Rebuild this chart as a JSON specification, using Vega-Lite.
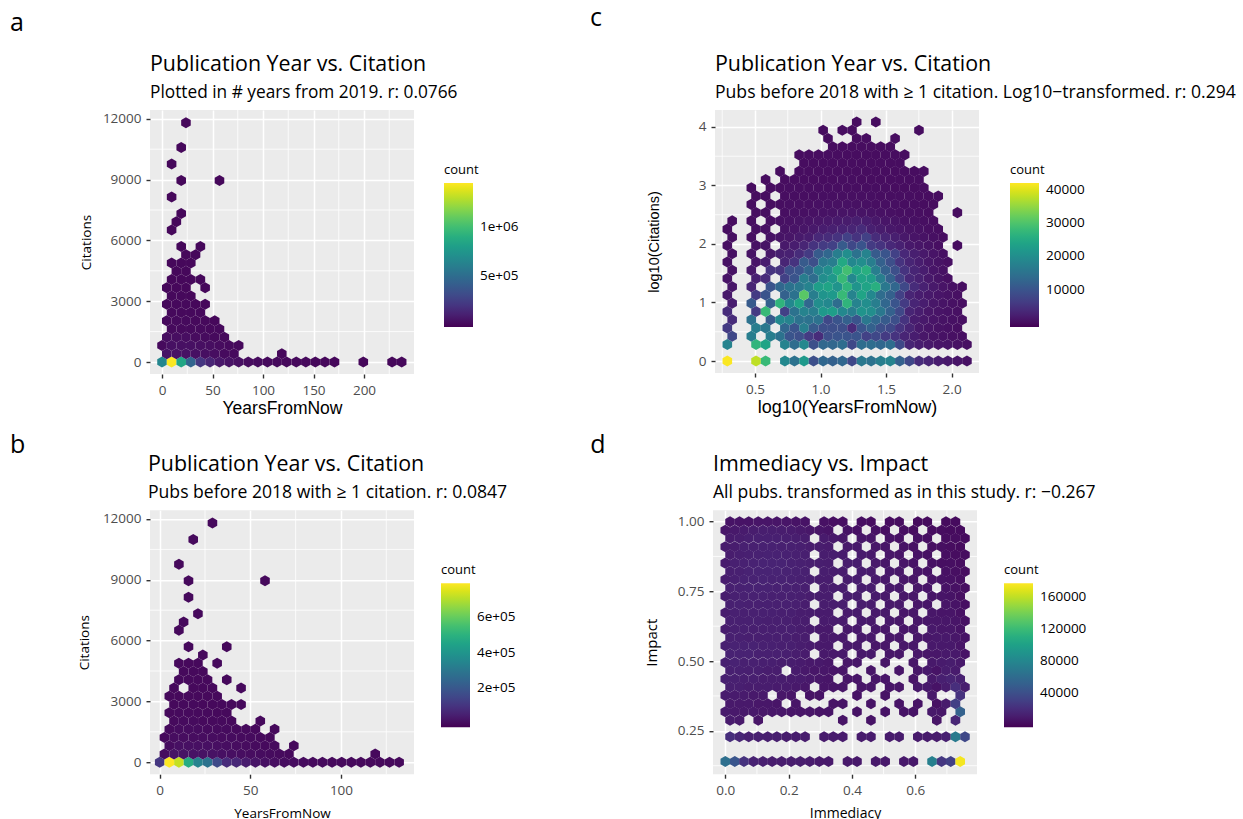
{"$schema":"https://vega.github.io/schema/vega-lite/v6.json","background":"white","padding":{"left":10,"top":5,"right":0,"bottom":0},"config":{"font":"Open Sans","view":{"fill":"#ebebeb","stroke":null},"axis":{"domain":false,"tickColor":"#333333","tickWidth":1.4,"tickSize":4,"labelColor":"#4d4d4d","labelFontSize":13.5,"labelFont":"Open Sans","titleFont":"Open Sans","titleFontWeight":"normal","titleColor":"#000000","gridColor":"#ffffff","gridWidth":1.5,"labelPadding":5}},"spacing":15.2,"columns":1,"align":"none","resolve":{"scale":{"color":"independent"},"legend":{"color":"independent"}},"concat":[{"spacing":71,"resolve":{"scale":{"color":"independent"},"legend":{"color":"independent"}},"hconcat":[{"title":{"text":"a","anchor":"start","frame":"group","fontSize":25,"fontWeight":"normal","font":"Open Sans","dx":-140,"offset":18.3},"hconcat":[{"title":{"text":"Publication Year vs. Citation","subtitle":"Plotted in # years from 2019. r: 0.0766","anchor":"start","frame":"group","fontSize":21.4,"fontWeight":"normal","font":"Open Sans","subtitleFont":"Open Sans","subtitleFontSize":17.3,"subtitleColor":"#000000","subtitlePadding":8.3,"offset":8.4},"width":264,"height":264,"layer":[{"data":{"values":[{"g":25},{"g":75},{"g":125},{"g":175},{"g":225}]},"mark":{"type":"rule","color":"white","strokeWidth":0.8},"encoding":{"x":{"field":"g","type":"quantitative","scale":{"domain":[-11.9,249.5],"nice":false,"zero":false}}}},{"data":{"values":[{"g":1500},{"g":4500},{"g":7500},{"g":10500}]},"mark":{"type":"rule","color":"white","strokeWidth":0.8},"encoding":{"y":{"field":"g","type":"quantitative","scale":{"domain":[-592,12434],"nice":false,"zero":false}}}},{"data":{"values":[{"x":0,"y":0,"n":650000},{"x":9.5,"y":0,"n":1450000},{"x":19,"y":0,"n":850000},{"x":28.5,"y":0,"n":450000},{"x":38,"y":0,"n":200000},{"x":47.5,"y":0,"n":120000},{"x":56.9,"y":0,"n":60000},{"x":66.4,"y":0,"n":40000},{"x":75.9,"y":0,"n":25000},{"x":85.4,"y":0,"n":15000},{"x":94.9,"y":0,"n":10000},{"x":104.4,"y":0,"n":7000},{"x":113.9,"y":0,"n":5000},{"x":123.4,"y":0,"n":3000},{"x":132.9,"y":0,"n":1500},{"x":142.4,"y":0,"n":800},{"x":151.8,"y":0,"n":500},{"x":161.3,"y":0,"n":300},{"x":170.8,"y":0,"n":100},{"x":199.3,"y":0,"n":2},{"x":227.8,"y":0,"n":1},{"x":237.3,"y":0,"n":1},{"x":4.7,"y":407,"n":40000},{"x":14.2,"y":407,"n":40000},{"x":23.7,"y":407,"n":35000},{"x":33.2,"y":407,"n":30000},{"x":42.7,"y":407,"n":25000},{"x":52.2,"y":407,"n":20000},{"x":61.7,"y":407,"n":10000},{"x":71.2,"y":407,"n":5000},{"x":118.6,"y":407,"n":5},{"x":0,"y":814,"n":5000},{"x":9.5,"y":814,"n":30000},{"x":19,"y":814,"n":30000},{"x":28.5,"y":814,"n":30000},{"x":38,"y":814,"n":25000},{"x":47.5,"y":814,"n":20000},{"x":56.9,"y":814,"n":15000},{"x":66.4,"y":814,"n":8000},{"x":75.9,"y":814,"n":1000},{"x":4.7,"y":1221,"n":20000},{"x":14.2,"y":1221,"n":20000},{"x":23.7,"y":1221,"n":20000},{"x":33.2,"y":1221,"n":15000},{"x":42.7,"y":1221,"n":12000},{"x":52.2,"y":1221,"n":8000},{"x":61.7,"y":1221,"n":3000},{"x":9.5,"y":1628,"n":8000},{"x":19,"y":1628,"n":8000},{"x":28.5,"y":1628,"n":7000},{"x":38,"y":1628,"n":6000},{"x":47.5,"y":1628,"n":4000},{"x":56.9,"y":1628,"n":1000},{"x":4.7,"y":2035,"n":3000},{"x":14.2,"y":2035,"n":5000},{"x":23.7,"y":2035,"n":5000},{"x":33.2,"y":2035,"n":4000},{"x":42.7,"y":2035,"n":2000},{"x":52.2,"y":2035,"n":500},{"x":9.5,"y":2442,"n":3000},{"x":19,"y":2442,"n":3000},{"x":28.5,"y":2442,"n":2000},{"x":38,"y":2442,"n":1000},{"x":4.7,"y":2849,"n":500},{"x":14.2,"y":2849,"n":1500},{"x":23.7,"y":2849,"n":1500},{"x":33.2,"y":2849,"n":500},{"x":42.7,"y":2849,"n":100},{"x":9.5,"y":3256,"n":800},{"x":19,"y":3256,"n":800},{"x":28.5,"y":3256,"n":300},{"x":4.7,"y":3663,"n":100},{"x":14.2,"y":3663,"n":400},{"x":23.7,"y":3663,"n":300},{"x":42.7,"y":3663,"n":10},{"x":9.5,"y":4070,"n":200},{"x":19,"y":4070,"n":200},{"x":28.5,"y":4070,"n":100},{"x":38,"y":4070,"n":10},{"x":14.2,"y":4477,"n":100},{"x":23.7,"y":4477,"n":80},{"x":9.5,"y":4884,"n":30},{"x":19,"y":4884,"n":40},{"x":28.5,"y":4884,"n":30},{"x":23.7,"y":5291,"n":10},{"x":33.2,"y":5291,"n":5},{"x":19,"y":5698,"n":5},{"x":38,"y":5698,"n":3},{"x":9.5,"y":6512,"n":2},{"x":14.2,"y":6919,"n":2},{"x":19,"y":7326,"n":1},{"x":9.5,"y":8140,"n":1},{"x":19,"y":8954,"n":1},{"x":56.9,"y":8954,"n":1},{"x":9.5,"y":9768,"n":1},{"x":19,"y":10582,"n":1},{"x":23.7,"y":11803,"n":1}]},"mark":{"type":"point","filled":true,"opacity":1,"strokeWidth":0,"size":122,"shape":"M0,-1L0.866,-0.5L0.866,0.5L0,1L-0.866,0.5L-0.866,-0.5Z"},"encoding":{"x":{"field":"x","type":"quantitative","title":"YearsFromNow","scale":{"domain":[-11.9,249.5],"nice":false,"zero":false},"axis":{"values":[0,50,100,150,200],"titleFontSize":17.5,"titleFont":"Liberation Sans","titlePadding":3}},"y":{"field":"y","type":"quantitative","title":"Citations","scale":{"domain":[-592,12434],"nice":false,"zero":false},"axis":{"values":[0,3000,6000,9000,12000],"format":"d","titleFontSize":13.5,"titlePadding":9}},"color":{"field":"n","type":"quantitative","scale":{"scheme":"viridis","domain":[-28000,1458000],"clamp":true},"legend":{"orient":"none","legendX":294,"legendY":54,"title":"count","titleFontWeight":"normal","titleFont":"Open Sans","labelFont":"Open Sans","titleFontSize":13,"labelFontSize":13.5,"labelColor":"#000000","titleColor":"#000000","gradientLength":144,"gradientThickness":29,"titlePadding":6,"labelOffset":7,"labelOverlap":false,"values":[500000,1000000],"labelExpr":"datum.value==1000000?'1e+06':'5e+05'"}}}}]}]},{"title":{"text":"c","anchor":"start","frame":"group","fontSize":25,"fontWeight":"normal","font":"Open Sans","dx":-125,"offset":23.3},"hconcat":[{"title":{"text":"Publication Year vs. Citation","subtitle":"Pubs before 2018 with ≥ 1 citation. Log10−transformed. r: 0.294","anchor":"start","frame":"group","fontSize":21.4,"fontWeight":"normal","font":"Open Sans","subtitleFont":"Open Sans","subtitleFontSize":17.6,"subtitleColor":"#000000","subtitlePadding":8.3,"offset":8.4},"width":264,"height":263,"layer":[{"data":{"values":[{"g":0.25},{"g":0.75},{"g":1.25},{"g":1.75}]},"mark":{"type":"rule","color":"white","strokeWidth":0.8},"encoding":{"x":{"field":"g","type":"quantitative","scale":{"domain":[0.195,2.209],"nice":false,"zero":false}}}},{"data":{"values":[{"g":0.5},{"g":1.5},{"g":2.5},{"g":3.5}]},"mark":{"type":"rule","color":"white","strokeWidth":0.8},"encoding":{"y":{"field":"g","type":"quantitative","scale":{"domain":[-0.205,4.29],"nice":false,"zero":false}}}},{"data":{"values":[{"x":0.289,"y":0,"n":42000},{"x":0.508,"y":0,"n":38000},{"x":0.581,"y":0,"n":28000},{"x":0.728,"y":0,"n":19000},{"x":0.801,"y":0,"n":15000},{"x":0.874,"y":0,"n":22000},{"x":0.947,"y":0,"n":9000},{"x":1.02,"y":0,"n":13000},{"x":1.093,"y":0,"n":12000},{"x":1.166,"y":0,"n":13000},{"x":1.24,"y":0,"n":8000},{"x":1.313,"y":0,"n":16000},{"x":1.386,"y":0,"n":15000},{"x":1.459,"y":0,"n":17000},{"x":1.532,"y":0,"n":18000},{"x":1.605,"y":0,"n":12000},{"x":1.678,"y":0,"n":8000},{"x":1.751,"y":0,"n":4000},{"x":1.825,"y":0,"n":3000},{"x":1.898,"y":0,"n":2000},{"x":1.971,"y":0,"n":1500},{"x":2.044,"y":0,"n":1000},{"x":2.117,"y":0,"n":500},{"x":0.289,"y":0.282,"n":18000},{"x":0.508,"y":0.282,"n":27000},{"x":0.581,"y":0.282,"n":24000},{"x":0.728,"y":0.282,"n":18000},{"x":0.801,"y":0.282,"n":14000},{"x":0.874,"y":0.282,"n":19000},{"x":0.947,"y":0.282,"n":9000},{"x":1.02,"y":0.282,"n":13000},{"x":1.093,"y":0.282,"n":13000},{"x":1.166,"y":0.282,"n":14000},{"x":1.24,"y":0.282,"n":8000},{"x":1.313,"y":0.282,"n":14000},{"x":1.386,"y":0.282,"n":14000},{"x":1.459,"y":0.282,"n":13000},{"x":1.532,"y":0.282,"n":14000},{"x":1.605,"y":0.282,"n":8000},{"x":1.678,"y":0.282,"n":3000},{"x":1.751,"y":0.282,"n":2000},{"x":1.825,"y":0.282,"n":1500},{"x":1.898,"y":0.282,"n":1000},{"x":1.971,"y":0.282,"n":800},{"x":2.044,"y":0.282,"n":500},{"x":2.117,"y":0.282,"n":300},{"x":0.326,"y":0.423,"n":8000},{"x":0.472,"y":0.423,"n":17000},{"x":0.618,"y":0.423,"n":17000},{"x":0.691,"y":0.423,"n":15000},{"x":0.764,"y":0.423,"n":10000},{"x":0.837,"y":0.423,"n":9000},{"x":0.911,"y":0.423,"n":6000},{"x":0.984,"y":0.423,"n":4000},{"x":1.057,"y":0.423,"n":9000},{"x":1.13,"y":0.423,"n":10000},{"x":1.203,"y":0.423,"n":10000},{"x":1.276,"y":0.423,"n":10000},{"x":1.349,"y":0.423,"n":7000},{"x":1.422,"y":0.423,"n":8000},{"x":1.495,"y":0.423,"n":6000},{"x":1.569,"y":0.423,"n":5000},{"x":1.642,"y":0.423,"n":3000},{"x":1.715,"y":0.423,"n":2000},{"x":1.788,"y":0.423,"n":1200},{"x":1.861,"y":0.423,"n":800},{"x":1.934,"y":0.423,"n":600},{"x":2.007,"y":0.423,"n":400},{"x":2.08,"y":0.423,"n":200},{"x":0.289,"y":0.564,"n":6000},{"x":0.508,"y":0.564,"n":17000},{"x":0.581,"y":0.564,"n":16000},{"x":0.728,"y":0.564,"n":13000},{"x":0.801,"y":0.564,"n":10000},{"x":0.874,"y":0.564,"n":17000},{"x":0.947,"y":0.564,"n":11000},{"x":1.02,"y":0.564,"n":9000},{"x":1.093,"y":0.564,"n":9000},{"x":1.166,"y":0.564,"n":9000},{"x":1.24,"y":0.564,"n":4000},{"x":1.313,"y":0.564,"n":10000},{"x":1.386,"y":0.564,"n":12000},{"x":1.459,"y":0.564,"n":9000},{"x":1.532,"y":0.564,"n":8000},{"x":1.605,"y":0.564,"n":5000},{"x":1.678,"y":0.564,"n":3000},{"x":1.751,"y":0.564,"n":1500},{"x":1.825,"y":0.564,"n":1000},{"x":1.898,"y":0.564,"n":700},{"x":1.971,"y":0.564,"n":500},{"x":2.044,"y":0.564,"n":300},{"x":0.326,"y":0.705,"n":4000},{"x":0.472,"y":0.705,"n":15000},{"x":0.618,"y":0.705,"n":11000},{"x":0.691,"y":0.705,"n":19000},{"x":0.764,"y":0.705,"n":18000},{"x":0.837,"y":0.705,"n":15000},{"x":0.911,"y":0.705,"n":15000},{"x":0.984,"y":0.705,"n":15000},{"x":1.057,"y":0.705,"n":8000},{"x":1.13,"y":0.705,"n":10000},{"x":1.203,"y":0.705,"n":12000},{"x":1.276,"y":0.705,"n":10000},{"x":1.349,"y":0.705,"n":16000},{"x":1.422,"y":0.705,"n":13000},{"x":1.495,"y":0.705,"n":11000},{"x":1.569,"y":0.705,"n":9000},{"x":1.642,"y":0.705,"n":5000},{"x":1.715,"y":0.705,"n":2000},{"x":1.788,"y":0.705,"n":1500},{"x":1.861,"y":0.705,"n":1000},{"x":1.934,"y":0.705,"n":700},{"x":2.007,"y":0.705,"n":500},{"x":2.08,"y":0.705,"n":250},{"x":0.289,"y":0.845,"n":4000},{"x":0.508,"y":0.845,"n":6000},{"x":0.581,"y":0.845,"n":28000},{"x":0.728,"y":0.845,"n":7000},{"x":0.801,"y":0.845,"n":15000},{"x":0.874,"y":0.845,"n":18000},{"x":0.947,"y":0.845,"n":17000},{"x":1.02,"y":0.845,"n":22000},{"x":1.093,"y":0.845,"n":23000},{"x":1.166,"y":0.845,"n":19000},{"x":1.24,"y":0.845,"n":17000},{"x":1.313,"y":0.845,"n":21000},{"x":1.386,"y":0.845,"n":20000},{"x":1.459,"y":0.845,"n":16000},{"x":1.532,"y":0.845,"n":12000},{"x":1.605,"y":0.845,"n":8000},{"x":1.678,"y":0.845,"n":3000},{"x":1.751,"y":0.845,"n":2000},{"x":1.825,"y":0.845,"n":1200},{"x":1.898,"y":0.845,"n":900},{"x":1.971,"y":0.845,"n":600},{"x":2.044,"y":0.845,"n":350},{"x":0.326,"y":0.986,"n":2000},{"x":0.472,"y":0.986,"n":11000},{"x":0.618,"y":0.986,"n":12000},{"x":0.691,"y":0.986,"n":27000},{"x":0.764,"y":0.986,"n":19000},{"x":0.837,"y":0.986,"n":24000},{"x":0.911,"y":0.986,"n":13000},{"x":0.984,"y":0.986,"n":20000},{"x":1.057,"y":0.986,"n":19000},{"x":1.13,"y":0.986,"n":14000},{"x":1.203,"y":0.986,"n":27000},{"x":1.276,"y":0.986,"n":18000},{"x":1.349,"y":0.986,"n":20000},{"x":1.422,"y":0.986,"n":17000},{"x":1.495,"y":0.986,"n":13000},{"x":1.569,"y":0.986,"n":10000},{"x":1.642,"y":0.986,"n":6000},{"x":1.715,"y":0.986,"n":3000},{"x":1.788,"y":0.986,"n":2000},{"x":1.861,"y":0.986,"n":1200},{"x":1.934,"y":0.986,"n":800},{"x":2.007,"y":0.986,"n":500},{"x":2.08,"y":0.986,"n":300},{"x":0.289,"y":1.127,"n":1500},{"x":0.508,"y":1.127,"n":6000},{"x":0.581,"y":1.127,"n":10000},{"x":0.728,"y":1.127,"n":12000},{"x":0.801,"y":1.127,"n":15000},{"x":0.874,"y":1.127,"n":31000},{"x":0.947,"y":1.127,"n":17000},{"x":1.02,"y":1.127,"n":21000},{"x":1.093,"y":1.127,"n":22000},{"x":1.166,"y":1.127,"n":28000},{"x":1.24,"y":1.127,"n":18000},{"x":1.313,"y":1.127,"n":24000},{"x":1.386,"y":1.127,"n":19000},{"x":1.459,"y":1.127,"n":14000},{"x":1.532,"y":1.127,"n":12000},{"x":1.605,"y":1.127,"n":7000},{"x":1.678,"y":1.127,"n":3000},{"x":1.751,"y":1.127,"n":2000},{"x":1.825,"y":1.127,"n":1500},{"x":1.898,"y":1.127,"n":1000},{"x":1.971,"y":1.127,"n":700},{"x":2.044,"y":1.127,"n":350},{"x":0.326,"y":1.268,"n":1200},{"x":0.472,"y":1.268,"n":3000},{"x":0.618,"y":1.268,"n":10000},{"x":0.691,"y":1.268,"n":13000},{"x":0.764,"y":1.268,"n":15000},{"x":0.837,"y":1.268,"n":16000},{"x":0.911,"y":1.268,"n":18000},{"x":0.984,"y":1.268,"n":23000},{"x":1.057,"y":1.268,"n":24000},{"x":1.13,"y":1.268,"n":21000},{"x":1.203,"y":1.268,"n":27000},{"x":1.276,"y":1.268,"n":21000},{"x":1.349,"y":1.268,"n":24000},{"x":1.422,"y":1.268,"n":26000},{"x":1.495,"y":1.268,"n":16000},{"x":1.569,"y":1.268,"n":13000},{"x":1.642,"y":1.268,"n":8000},{"x":1.715,"y":1.268,"n":4000},{"x":1.788,"y":1.268,"n":2500},{"x":1.861,"y":1.268,"n":1500},{"x":1.934,"y":1.268,"n":900},{"x":2.007,"y":1.268,"n":500},{"x":2.08,"y":1.268,"n":150},{"x":0.289,"y":1.409,"n":900},{"x":0.508,"y":1.409,"n":2500},{"x":0.581,"y":1.409,"n":4000},{"x":0.728,"y":1.409,"n":7000},{"x":0.801,"y":1.409,"n":10000},{"x":0.874,"y":1.409,"n":17000},{"x":0.947,"y":1.409,"n":14000},{"x":1.02,"y":1.409,"n":20000},{"x":1.093,"y":1.409,"n":22000},{"x":1.166,"y":1.409,"n":28000},{"x":1.24,"y":1.409,"n":19000},{"x":1.313,"y":1.409,"n":24000},{"x":1.386,"y":1.409,"n":23000},{"x":1.459,"y":1.409,"n":17000},{"x":1.532,"y":1.409,"n":12000},{"x":1.605,"y":1.409,"n":7000},{"x":1.678,"y":1.409,"n":3500},{"x":1.751,"y":1.409,"n":2500},{"x":1.825,"y":1.409,"n":1500},{"x":1.898,"y":1.409,"n":800},{"x":1.971,"y":1.409,"n":300},{"x":0.326,"y":1.55,"n":600},{"x":0.472,"y":1.55,"n":1500},{"x":0.618,"y":1.55,"n":5000},{"x":0.691,"y":1.55,"n":5000},{"x":0.764,"y":1.55,"n":9000},{"x":0.837,"y":1.55,"n":10000},{"x":0.911,"y":1.55,"n":13000},{"x":0.984,"y":1.55,"n":18000},{"x":1.057,"y":1.55,"n":20000},{"x":1.13,"y":1.55,"n":25000},{"x":1.203,"y":1.55,"n":29000},{"x":1.276,"y":1.55,"n":24000},{"x":1.349,"y":1.55,"n":26000},{"x":1.422,"y":1.55,"n":17000},{"x":1.495,"y":1.55,"n":12000},{"x":1.569,"y":1.55,"n":9000},{"x":1.642,"y":1.55,"n":5000},{"x":1.715,"y":1.55,"n":3000},{"x":1.788,"y":1.55,"n":2000},{"x":1.861,"y":1.55,"n":1000},{"x":1.934,"y":1.55,"n":500},{"x":0.289,"y":1.691,"n":500},{"x":0.508,"y":1.691,"n":1000},{"x":0.581,"y":1.691,"n":2000},{"x":0.728,"y":1.691,"n":3000},{"x":0.801,"y":1.691,"n":5000},{"x":0.874,"y":1.691,"n":11000},{"x":0.947,"y":1.691,"n":9000},{"x":1.02,"y":1.691,"n":16000},{"x":1.093,"y":1.691,"n":17000},{"x":1.166,"y":1.691,"n":25000},{"x":1.24,"y":1.691,"n":19000},{"x":1.313,"y":1.691,"n":20000},{"x":1.386,"y":1.691,"n":17000},{"x":1.459,"y":1.691,"n":12000},{"x":1.532,"y":1.691,"n":9000},{"x":1.605,"y":1.691,"n":5000},{"x":1.678,"y":1.691,"n":3000},{"x":1.751,"y":1.691,"n":2000},{"x":1.825,"y":1.691,"n":1200},{"x":1.898,"y":1.691,"n":700},{"x":1.971,"y":1.691,"n":300},{"x":0.326,"y":1.832,"n":400},{"x":0.472,"y":1.832,"n":700},{"x":0.618,"y":1.832,"n":1300},{"x":0.691,"y":1.832,"n":2200},{"x":0.764,"y":1.832,"n":2500},{"x":0.837,"y":1.832,"n":4000},{"x":0.911,"y":1.832,"n":6000},{"x":0.984,"y":1.832,"n":11000},{"x":1.057,"y":1.832,"n":13000},{"x":1.13,"y":1.832,"n":17000},{"x":1.203,"y":1.832,"n":20000},{"x":1.276,"y":1.832,"n":15000},{"x":1.349,"y":1.832,"n":18000},{"x":1.422,"y":1.832,"n":11000},{"x":1.495,"y":1.832,"n":10000},{"x":1.569,"y":1.832,"n":7000},{"x":1.642,"y":1.832,"n":3500},{"x":1.715,"y":1.832,"n":2200},{"x":1.788,"y":1.832,"n":1500},{"x":1.861,"y":1.832,"n":900},{"x":1.934,"y":1.832,"n":400},{"x":0.289,"y":1.973,"n":300},{"x":0.508,"y":1.973,"n":500},{"x":0.581,"y":1.973,"n":800},{"x":0.728,"y":1.973,"n":1500},{"x":0.801,"y":1.973,"n":2000},{"x":0.874,"y":1.973,"n":3000},{"x":0.947,"y":1.973,"n":5000},{"x":1.02,"y":1.973,"n":6000},{"x":1.093,"y":1.973,"n":7000},{"x":1.166,"y":1.973,"n":11000},{"x":1.24,"y":1.973,"n":8000},{"x":1.313,"y":1.973,"n":10000},{"x":1.386,"y":1.973,"n":6000},{"x":1.459,"y":1.973,"n":5000},{"x":1.532,"y":1.973,"n":3500},{"x":1.605,"y":1.973,"n":2500},{"x":1.678,"y":1.973,"n":1500},{"x":1.751,"y":1.973,"n":1100},{"x":1.825,"y":1.973,"n":700},{"x":1.898,"y":1.973,"n":300},{"x":2.044,"y":1.973,"n":5},{"x":0.326,"y":2.114,"n":200},{"x":0.472,"y":2.114,"n":300},{"x":0.618,"y":2.114,"n":600},{"x":0.691,"y":2.114,"n":800},{"x":0.764,"y":2.114,"n":1100},{"x":0.837,"y":2.114,"n":1600},{"x":0.911,"y":2.114,"n":2000},{"x":0.984,"y":2.114,"n":3500},{"x":1.057,"y":2.114,"n":4000},{"x":1.13,"y":2.114,"n":5000},{"x":1.203,"y":2.114,"n":7000},{"x":1.276,"y":2.114,"n":5000},{"x":1.349,"y":2.114,"n":7000},{"x":1.422,"y":2.114,"n":4000},{"x":1.495,"y":2.114,"n":3000},{"x":1.569,"y":2.114,"n":2200},{"x":1.642,"y":2.114,"n":1300},{"x":1.715,"y":2.114,"n":900},{"x":1.788,"y":2.114,"n":600},{"x":1.861,"y":2.114,"n":400},{"x":1.934,"y":2.114,"n":150},{"x":0.289,"y":2.254,"n":100},{"x":0.508,"y":2.254,"n":250},{"x":0.581,"y":2.254,"n":400},{"x":0.728,"y":2.254,"n":700},{"x":0.801,"y":2.254,"n":900},{"x":0.874,"y":2.254,"n":1100},{"x":0.947,"y":2.254,"n":1500},{"x":1.02,"y":2.254,"n":2000},{"x":1.093,"y":2.254,"n":2300},{"x":1.166,"y":2.254,"n":2800},{"x":1.24,"y":2.254,"n":3000},{"x":1.313,"y":2.254,"n":4000},{"x":1.386,"y":2.254,"n":2300},{"x":1.459,"y":2.254,"n":1800},{"x":1.532,"y":2.254,"n":1300},{"x":1.605,"y":2.254,"n":1000},{"x":1.678,"y":2.254,"n":700},{"x":1.751,"y":2.254,"n":500},{"x":1.825,"y":2.254,"n":300},{"x":1.898,"y":2.254,"n":150},{"x":0.326,"y":2.395,"n":60},{"x":0.472,"y":2.395,"n":150},{"x":0.618,"y":2.395,"n":250},{"x":0.691,"y":2.395,"n":350},{"x":0.764,"y":2.395,"n":500},{"x":0.837,"y":2.395,"n":700},{"x":0.911,"y":2.395,"n":900},{"x":0.984,"y":2.395,"n":1100},{"x":1.057,"y":2.395,"n":1300},{"x":1.13,"y":2.395,"n":1600},{"x":1.203,"y":2.395,"n":1800},{"x":1.276,"y":2.395,"n":2200},{"x":1.349,"y":2.395,"n":2000},{"x":1.422,"y":2.395,"n":1300},{"x":1.495,"y":2.395,"n":1000},{"x":1.569,"y":2.395,"n":800},{"x":1.642,"y":2.395,"n":500},{"x":1.715,"y":2.395,"n":350},{"x":1.788,"y":2.395,"n":200},{"x":1.861,"y":2.395,"n":80},{"x":0.508,"y":2.536,"n":80},{"x":0.581,"y":2.536,"n":150},{"x":0.728,"y":2.536,"n":300},{"x":0.801,"y":2.536,"n":350},{"x":0.874,"y":2.536,"n":400},{"x":0.947,"y":2.536,"n":500},{"x":1.02,"y":2.536,"n":600},{"x":1.093,"y":2.536,"n":700},{"x":1.166,"y":2.536,"n":800},{"x":1.24,"y":2.536,"n":900},{"x":1.313,"y":2.536,"n":800},{"x":1.386,"y":2.536,"n":700},{"x":1.459,"y":2.536,"n":500},{"x":1.532,"y":2.536,"n":400},{"x":1.605,"y":2.536,"n":300},{"x":1.678,"y":2.536,"n":200},{"x":1.751,"y":2.536,"n":150},{"x":1.825,"y":2.536,"n":50},{"x":2.044,"y":2.536,"n":1},{"x":0.472,"y":2.677,"n":60},{"x":0.618,"y":2.677,"n":100},{"x":0.691,"y":2.677,"n":150},{"x":0.764,"y":2.677,"n":200},{"x":0.837,"y":2.677,"n":250},{"x":0.911,"y":2.677,"n":300},{"x":0.984,"y":2.677,"n":350},{"x":1.057,"y":2.677,"n":400},{"x":1.13,"y":2.677,"n":450},{"x":1.203,"y":2.677,"n":500},{"x":1.276,"y":2.677,"n":450},{"x":1.349,"y":2.677,"n":400},{"x":1.422,"y":2.677,"n":300},{"x":1.495,"y":2.677,"n":250},{"x":1.569,"y":2.677,"n":200},{"x":1.642,"y":2.677,"n":150},{"x":1.715,"y":2.677,"n":100},{"x":1.788,"y":2.677,"n":50},{"x":1.861,"y":2.677,"n":20},{"x":0.508,"y":2.818,"n":40},{"x":0.581,"y":2.818,"n":70},{"x":0.728,"y":2.818,"n":100},{"x":0.801,"y":2.818,"n":120},{"x":0.874,"y":2.818,"n":150},{"x":0.947,"y":2.818,"n":180},{"x":1.02,"y":2.818,"n":200},{"x":1.093,"y":2.818,"n":220},{"x":1.166,"y":2.818,"n":250},{"x":1.24,"y":2.818,"n":250},{"x":1.313,"y":2.818,"n":220},{"x":1.386,"y":2.818,"n":200},{"x":1.459,"y":2.818,"n":170},{"x":1.532,"y":2.818,"n":140},{"x":1.605,"y":2.818,"n":110},{"x":1.678,"y":2.818,"n":80},{"x":1.751,"y":2.818,"n":50},{"x":1.825,"y":2.818,"n":20},{"x":1.898,"y":2.818,"n":5},{"x":0.472,"y":2.959,"n":30},{"x":0.618,"y":2.959,"n":50},{"x":0.691,"y":2.959,"n":60},{"x":0.764,"y":2.959,"n":70},{"x":0.837,"y":2.959,"n":80},{"x":0.911,"y":2.959,"n":90},{"x":0.984,"y":2.959,"n":100},{"x":1.057,"y":2.959,"n":120},{"x":1.13,"y":2.959,"n":130},{"x":1.203,"y":2.959,"n":130},{"x":1.276,"y":2.959,"n":120},{"x":1.349,"y":2.959,"n":110},{"x":1.422,"y":2.959,"n":90},{"x":1.495,"y":2.959,"n":70},{"x":1.569,"y":2.959,"n":60},{"x":1.642,"y":2.959,"n":40},{"x":1.715,"y":2.959,"n":20},{"x":1.788,"y":2.959,"n":10},{"x":0.581,"y":3.1,"n":30},{"x":0.728,"y":3.1,"n":40},{"x":0.801,"y":3.1,"n":40},{"x":0.874,"y":3.1,"n":50},{"x":0.947,"y":3.1,"n":50},{"x":1.02,"y":3.1,"n":60},{"x":1.093,"y":3.1,"n":60},{"x":1.166,"y":3.1,"n":70},{"x":1.24,"y":3.1,"n":70},{"x":1.313,"y":3.1,"n":60},{"x":1.386,"y":3.1,"n":60},{"x":1.459,"y":3.1,"n":50},{"x":1.532,"y":3.1,"n":40},{"x":1.605,"y":3.1,"n":30},{"x":1.678,"y":3.1,"n":20},{"x":1.751,"y":3.1,"n":10},{"x":0.691,"y":3.241,"n":10},{"x":0.837,"y":3.241,"n":20},{"x":0.911,"y":3.241,"n":20},{"x":0.984,"y":3.241,"n":30},{"x":1.057,"y":3.241,"n":30},{"x":1.13,"y":3.241,"n":30},{"x":1.203,"y":3.241,"n":30},{"x":1.276,"y":3.241,"n":30},{"x":1.349,"y":3.241,"n":30},{"x":1.422,"y":3.241,"n":20},{"x":1.495,"y":3.241,"n":20},{"x":1.569,"y":3.241,"n":20},{"x":1.642,"y":3.241,"n":10},{"x":1.715,"y":3.241,"n":5},{"x":1.788,"y":3.241,"n":2},{"x":0.874,"y":3.382,"n":10},{"x":0.947,"y":3.382,"n":10},{"x":1.02,"y":3.382,"n":10},{"x":1.093,"y":3.382,"n":10},{"x":1.166,"y":3.382,"n":10},{"x":1.24,"y":3.382,"n":10},{"x":1.313,"y":3.382,"n":10},{"x":1.386,"y":3.382,"n":10},{"x":1.459,"y":3.382,"n":10},{"x":1.532,"y":3.382,"n":10},{"x":1.605,"y":3.382,"n":5},{"x":0.837,"y":3.523,"n":2},{"x":0.911,"y":3.523,"n":3},{"x":0.984,"y":3.523,"n":3},{"x":1.057,"y":3.523,"n":5},{"x":1.13,"y":3.523,"n":5},{"x":1.203,"y":3.523,"n":5},{"x":1.276,"y":3.523,"n":5},{"x":1.349,"y":3.523,"n":5},{"x":1.422,"y":3.523,"n":5},{"x":1.495,"y":3.523,"n":5},{"x":1.569,"y":3.523,"n":3},{"x":1.642,"y":3.523,"n":2},{"x":1.093,"y":3.663,"n":2},{"x":1.166,"y":3.663,"n":2},{"x":1.24,"y":3.663,"n":2},{"x":1.313,"y":3.663,"n":3},{"x":1.386,"y":3.663,"n":3},{"x":1.459,"y":3.663,"n":2},{"x":1.532,"y":3.663,"n":2},{"x":1.057,"y":3.804,"n":1},{"x":1.276,"y":3.804,"n":1},{"x":1.349,"y":3.804,"n":1},{"x":1.569,"y":3.804,"n":1},{"x":1.02,"y":3.945,"n":1},{"x":1.166,"y":3.945,"n":1},{"x":1.24,"y":3.945,"n":1},{"x":1.751,"y":3.945,"n":1},{"x":1.276,"y":4.086,"n":1},{"x":1.422,"y":4.086,"n":1}]},"mark":{"type":"point","filled":true,"opacity":1,"strokeWidth":0,"size":122,"shape":"M0,-1L0.866,-0.5L0.866,0.5L0,1L-0.866,0.5L-0.866,-0.5Z"},"encoding":{"x":{"field":"x","type":"quantitative","title":"log10(YearsFromNow)","scale":{"domain":[0.195,2.209],"nice":false,"zero":false},"axis":{"values":[0.5,1,1.5,2],"format":".1f","titleFontSize":18,"titleFont":"Liberation Sans","titlePadding":3}},"y":{"field":"y","type":"quantitative","title":"log10(Citations)","scale":{"domain":[-0.205,4.29],"nice":false,"zero":false},"axis":{"values":[0,1,2,3,4],"format":"d","titleFontSize":14.5,"titleFont":"Liberation Sans","titlePadding":37}},"color":{"field":"n","type":"quantitative","scale":{"scheme":"viridis","domain":[-1330,42200],"clamp":true},"legend":{"orient":"none","legendX":295,"legendY":54,"title":"count","titleFontWeight":"normal","titleFont":"Open Sans","labelFont":"Open Sans","titleFontSize":13,"labelFontSize":13.5,"labelColor":"#000000","titleColor":"#000000","gradientLength":144,"gradientThickness":29,"titlePadding":6,"labelOffset":7,"labelOverlap":false,"format":"d","values":[10000,20000,30000,40000]}}}}]}]}]},{"spacing":74,"resolve":{"scale":{"color":"independent"},"legend":{"color":"independent"}},"hconcat":[{"title":{"text":"b","anchor":"start","frame":"group","fontSize":25,"fontWeight":"normal","font":"Open Sans","dx":-140,"offset":-3.7},"hconcat":[{"title":{"text":"Publication Year vs. Citation","subtitle":"Pubs before 2018 with ≥ 1 citation. r: 0.0847","anchor":"start","frame":"group","dx":-2,"fontSize":21.4,"fontWeight":"normal","font":"Open Sans","subtitleFont":"Open Sans","subtitleFontSize":17.6,"subtitleColor":"#000000","subtitlePadding":8.3,"offset":8.4},"width":264,"height":264,"layer":[{"data":{"values":[{"g":25},{"g":75},{"g":125}]},"mark":{"type":"rule","color":"white","strokeWidth":0.8},"encoding":{"x":{"field":"g","type":"quantitative","scale":{"domain":[-5.35,140.3],"nice":false,"zero":false}}}},{"data":{"values":[{"g":1500},{"g":4500},{"g":7500},{"g":10500}]},"mark":{"type":"rule","color":"white","strokeWidth":0.8},"encoding":{"y":{"field":"g","type":"quantitative","scale":{"domain":[-592,12434],"nice":false,"zero":false}}}},{"data":{"values":[{"x":0,"y":0,"n":110000},{"x":5.3,"y":0,"n":790000},{"x":10.6,"y":0,"n":720000},{"x":15.9,"y":0,"n":480000},{"x":21.1,"y":0,"n":340000},{"x":26.4,"y":0,"n":290000},{"x":31.7,"y":0,"n":160000},{"x":37,"y":0,"n":80000},{"x":42.3,"y":0,"n":70000},{"x":47.6,"y":0,"n":40000},{"x":52.8,"y":0,"n":25000},{"x":58.1,"y":0,"n":15000},{"x":63.4,"y":0,"n":10000},{"x":68.7,"y":0,"n":7000},{"x":74,"y":0,"n":5000},{"x":79.3,"y":0,"n":3000},{"x":84.5,"y":0,"n":2000},{"x":89.8,"y":0,"n":1000},{"x":95.1,"y":0,"n":500},{"x":100.4,"y":0,"n":300},{"x":105.7,"y":0,"n":100},{"x":111,"y":0,"n":50},{"x":116.2,"y":0,"n":20},{"x":121.5,"y":0,"n":5},{"x":126.8,"y":0,"n":2},{"x":132.1,"y":0,"n":1},{"x":2.6,"y":407,"n":5000},{"x":7.9,"y":407,"n":20000},{"x":13.2,"y":407,"n":20000},{"x":18.5,"y":407,"n":20000},{"x":23.8,"y":407,"n":18000},{"x":29.1,"y":407,"n":18000},{"x":34.3,"y":407,"n":15000},{"x":39.6,"y":407,"n":12000},{"x":44.9,"y":407,"n":10000},{"x":50.2,"y":407,"n":8000},{"x":55.5,"y":407,"n":5000},{"x":60.8,"y":407,"n":3000},{"x":66,"y":407,"n":1000},{"x":71.3,"y":407,"n":300},{"x":118.9,"y":407,"n":1},{"x":5.3,"y":814,"n":5000},{"x":10.6,"y":814,"n":15000},{"x":15.9,"y":814,"n":15000},{"x":21.1,"y":814,"n":15000},{"x":26.4,"y":814,"n":15000},{"x":31.7,"y":814,"n":12000},{"x":37,"y":814,"n":10000},{"x":42.3,"y":814,"n":8000},{"x":47.6,"y":814,"n":6000},{"x":52.8,"y":814,"n":4000},{"x":58.1,"y":814,"n":2500},{"x":63.4,"y":814,"n":1000},{"x":74,"y":814,"n":10},{"x":2.6,"y":1221,"n":500},{"x":7.9,"y":1221,"n":8000},{"x":13.2,"y":1221,"n":8000},{"x":18.5,"y":1221,"n":8000},{"x":23.8,"y":1221,"n":8000},{"x":29.1,"y":1221,"n":7000},{"x":34.3,"y":1221,"n":6000},{"x":39.6,"y":1221,"n":5000},{"x":44.9,"y":1221,"n":4000},{"x":50.2,"y":1221,"n":3000},{"x":55.5,"y":1221,"n":1500},{"x":60.8,"y":1221,"n":500},{"x":5.3,"y":1628,"n":2000},{"x":10.6,"y":1628,"n":5000},{"x":15.9,"y":1628,"n":5000},{"x":21.1,"y":1628,"n":5000},{"x":26.4,"y":1628,"n":4000},{"x":31.7,"y":1628,"n":3500},{"x":37,"y":1628,"n":3000},{"x":42.3,"y":1628,"n":2000},{"x":47.6,"y":1628,"n":1000},{"x":52.8,"y":1628,"n":200},{"x":63.4,"y":1628,"n":10},{"x":7.9,"y":2035,"n":1000},{"x":13.2,"y":2035,"n":3000},{"x":18.5,"y":2035,"n":3000},{"x":23.8,"y":2035,"n":2500},{"x":29.1,"y":2035,"n":2000},{"x":34.3,"y":2035,"n":1500},{"x":39.6,"y":2035,"n":300},{"x":55.5,"y":2035,"n":5},{"x":5.3,"y":2442,"n":300},{"x":10.6,"y":2442,"n":1500},{"x":15.9,"y":2442,"n":1500},{"x":21.1,"y":2442,"n":1200},{"x":26.4,"y":2442,"n":1000},{"x":31.7,"y":2442,"n":500},{"x":37,"y":2442,"n":100},{"x":7.9,"y":2849,"n":200},{"x":13.2,"y":2849,"n":800},{"x":18.5,"y":2849,"n":800},{"x":23.8,"y":2849,"n":500},{"x":29.1,"y":2849,"n":300},{"x":34.3,"y":2849,"n":100},{"x":39.6,"y":2849,"n":10},{"x":44.9,"y":2849,"n":5},{"x":5.3,"y":3256,"n":50},{"x":10.6,"y":3256,"n":300},{"x":15.9,"y":3256,"n":300},{"x":21.1,"y":3256,"n":200},{"x":26.4,"y":3256,"n":100},{"x":31.7,"y":3256,"n":30},{"x":7.9,"y":3663,"n":50},{"x":18.5,"y":3663,"n":100},{"x":23.8,"y":3663,"n":80},{"x":29.1,"y":3663,"n":20},{"x":44.9,"y":3663,"n":2},{"x":10.6,"y":4070,"n":30},{"x":15.9,"y":4070,"n":50},{"x":21.1,"y":4070,"n":40},{"x":26.4,"y":4070,"n":10},{"x":37,"y":4070,"n":2},{"x":13.2,"y":4477,"n":10},{"x":18.5,"y":4477,"n":20},{"x":23.8,"y":4477,"n":10},{"x":10.6,"y":4884,"n":5},{"x":15.9,"y":4884,"n":5},{"x":21.1,"y":4884,"n":5},{"x":31.7,"y":4884,"n":1},{"x":23.8,"y":5291,"n":2},{"x":15.9,"y":5698,"n":1},{"x":37,"y":5698,"n":1},{"x":10.6,"y":6512,"n":1},{"x":13.2,"y":6919,"n":1},{"x":21.1,"y":7326,"n":1},{"x":15.9,"y":8140,"n":1},{"x":15.9,"y":8954,"n":1},{"x":58.1,"y":8954,"n":1},{"x":10.6,"y":9768,"n":1},{"x":18.5,"y":10989,"n":1},{"x":29.1,"y":11803,"n":1}]},"mark":{"type":"point","filled":true,"opacity":1,"strokeWidth":0,"size":122,"shape":"M0,-1L0.866,-0.5L0.866,0.5L0,1L-0.866,0.5L-0.866,-0.5Z"},"encoding":{"x":{"field":"x","type":"quantitative","title":"YearsFromNow","scale":{"domain":[-5.35,140.3],"nice":false,"zero":false},"axis":{"values":[0,50,100],"titleFontSize":13.5,"titlePadding":9.5}},"y":{"field":"y","type":"quantitative","title":"Citations","scale":{"domain":[-592,12434],"nice":false,"zero":false},"axis":{"values":[0,3000,6000,9000,12000],"format":"d","titleFontSize":13.5,"titlePadding":11}},"color":{"field":"n","type":"quantitative","scale":{"scheme":"viridis","domain":[-17000,790000],"clamp":true},"legend":{"orient":"none","legendX":291,"legendY":54,"title":"count","titleFontWeight":"normal","titleFont":"Open Sans","labelFont":"Open Sans","titleFontSize":13,"labelFontSize":13.5,"labelColor":"#000000","titleColor":"#000000","gradientLength":144,"gradientThickness":29,"titlePadding":6,"labelOffset":7,"labelOverlap":false,"values":[200000,400000,600000],"labelExpr":"replace(format(datum.value,'.0e'),'+','+0')"}}}}]}]},{"title":{"text":"d","anchor":"start","frame":"group","fontSize":25,"fontWeight":"normal","font":"Open Sans","dx":-122.7,"offset":-3.7},"hconcat":[{"title":{"text":"Immediacy vs. Impact","subtitle":"All pubs. transformed as in this study. r: −0.267","anchor":"start","frame":"group","fontSize":21.4,"fontWeight":"normal","font":"Open Sans","subtitleFont":"Open Sans","subtitleFontSize":17.5,"subtitleColor":"#000000","subtitlePadding":8.3,"offset":8.4},"width":264,"height":264,"layer":[{"data":{"values":[{"g":0.1},{"g":0.3},{"g":0.5},{"g":0.7}]},"mark":{"type":"rule","color":"white","strokeWidth":0.8},"encoding":{"x":{"field":"g","type":"quantitative","scale":{"domain":[-0.0388,0.795],"nice":false,"zero":false}}}},{"data":{"values":[{"g":0.125},{"g":0.375},{"g":0.625},{"g":0.875}]},"mark":{"type":"rule","color":"white","strokeWidth":0.8},"encoding":{"y":{"field":"g","type":"quantitative","scale":{"domain":[0.0945,1.0407],"nice":false,"zero":false}}}},{"data":{"values":[{"x":0,"y":0.14,"n":62000},{"x":0.03,"y":0.14,"n":44000},{"x":0.059,"y":0.14,"n":22000},{"x":0.089,"y":0.14,"n":13000},{"x":0.119,"y":0.14,"n":11000},{"x":0.148,"y":0.14,"n":10000},{"x":0.178,"y":0.14,"n":10000},{"x":0.208,"y":0.14,"n":10000},{"x":0.237,"y":0.14,"n":10000},{"x":0.267,"y":0.14,"n":9000},{"x":0.297,"y":0.14,"n":8000},{"x":0.326,"y":0.14,"n":8000},{"x":0.386,"y":0.14,"n":8000},{"x":0.416,"y":0.14,"n":8000},{"x":0.475,"y":0.14,"n":8000},{"x":0.505,"y":0.14,"n":8000},{"x":0.564,"y":0.14,"n":8000},{"x":0.594,"y":0.14,"n":8000},{"x":0.653,"y":0.14,"n":74000},{"x":0.683,"y":0.14,"n":25000},{"x":0.712,"y":0.14,"n":30000},{"x":0.742,"y":0.14,"n":175000},{"x":0.015,"y":0.229,"n":20000},{"x":0.045,"y":0.229,"n":15000},{"x":0.074,"y":0.229,"n":12000},{"x":0.104,"y":0.229,"n":12000},{"x":0.134,"y":0.229,"n":11000},{"x":0.163,"y":0.229,"n":11000},{"x":0.193,"y":0.229,"n":10000},{"x":0.223,"y":0.229,"n":10000},{"x":0.252,"y":0.229,"n":10000},{"x":0.312,"y":0.229,"n":9000},{"x":0.341,"y":0.229,"n":9000},{"x":0.371,"y":0.229,"n":9000},{"x":0.43,"y":0.229,"n":9000},{"x":0.46,"y":0.229,"n":9000},{"x":0.519,"y":0.229,"n":9000},{"x":0.549,"y":0.229,"n":9000},{"x":0.608,"y":0.229,"n":9000},{"x":0.638,"y":0.229,"n":9000},{"x":0.668,"y":0.229,"n":9000},{"x":0.697,"y":0.229,"n":12000},{"x":0.727,"y":0.229,"n":70000},{"x":0.757,"y":0.229,"n":35000},{"x":0.015,"y":0.288,"n":9000},{"x":0.045,"y":0.288,"n":8000},{"x":0.104,"y":0.288,"n":6000},{"x":0.371,"y":0.288,"n":5000},{"x":0.46,"y":0.288,"n":5000},{"x":0.668,"y":0.288,"n":6000},{"x":0.727,"y":0.288,"n":15000},{"x":0,"y":0.318,"n":9000},{"x":0.03,"y":0.318,"n":8000},{"x":0.059,"y":0.318,"n":8000},{"x":0.089,"y":0.318,"n":8000},{"x":0.119,"y":0.318,"n":7000},{"x":0.148,"y":0.318,"n":7000},{"x":0.178,"y":0.318,"n":7000},{"x":0.208,"y":0.318,"n":6000},{"x":0.237,"y":0.318,"n":6000},{"x":0.267,"y":0.318,"n":6000},{"x":0.297,"y":0.318,"n":5000},{"x":0.326,"y":0.318,"n":5000},{"x":0.416,"y":0.318,"n":5000},{"x":0.505,"y":0.318,"n":5000},{"x":0.564,"y":0.318,"n":5000},{"x":0.594,"y":0.318,"n":5000},{"x":0.653,"y":0.318,"n":8000},{"x":0.683,"y":0.318,"n":7000},{"x":0.742,"y":0.318,"n":52000},{"x":0.015,"y":0.347,"n":8000},{"x":0.045,"y":0.347,"n":8000},{"x":0.074,"y":0.347,"n":8000},{"x":0.104,"y":0.347,"n":7000},{"x":0.134,"y":0.347,"n":7000},{"x":0.163,"y":0.347,"n":6000},{"x":0.223,"y":0.347,"n":6000},{"x":0.341,"y":0.347,"n":5000},{"x":0.371,"y":0.347,"n":5000},{"x":0.46,"y":0.347,"n":5000},{"x":0.549,"y":0.347,"n":5000},{"x":0.608,"y":0.347,"n":5000},{"x":0.668,"y":0.347,"n":4000},{"x":0.697,"y":0.347,"n":9000},{"x":0.727,"y":0.347,"n":30000},{"x":0,"y":0.377,"n":9000},{"x":0.03,"y":0.377,"n":9000},{"x":0.059,"y":0.377,"n":9000},{"x":0.089,"y":0.377,"n":8000},{"x":0.119,"y":0.377,"n":8000},{"x":0.178,"y":0.377,"n":7000},{"x":0.208,"y":0.377,"n":6000},{"x":0.267,"y":0.377,"n":5000},{"x":0.297,"y":0.377,"n":5000},{"x":0.416,"y":0.377,"n":5000},{"x":0.505,"y":0.377,"n":5000},{"x":0.653,"y":0.377,"n":8000},{"x":0.742,"y":0.377,"n":22000},{"x":0.015,"y":0.407,"n":11000},{"x":0.045,"y":0.407,"n":11000},{"x":0.074,"y":0.407,"n":10000},{"x":0.104,"y":0.407,"n":10000},{"x":0.134,"y":0.407,"n":10000},{"x":0.163,"y":0.407,"n":9000},{"x":0.193,"y":0.407,"n":9000},{"x":0.223,"y":0.407,"n":8000},{"x":0.252,"y":0.407,"n":7000},{"x":0.312,"y":0.407,"n":6000},{"x":0.341,"y":0.407,"n":6000},{"x":0.371,"y":0.407,"n":6000},{"x":0.43,"y":0.407,"n":6000},{"x":0.46,"y":0.407,"n":6000},{"x":0.519,"y":0.407,"n":6000},{"x":0.549,"y":0.407,"n":6000},{"x":0.608,"y":0.407,"n":8000},{"x":0.638,"y":0.407,"n":8000},{"x":0.668,"y":0.407,"n":5000},{"x":0.697,"y":0.407,"n":10000},{"x":0.727,"y":0.407,"n":20000},{"x":0.757,"y":0.407,"n":10000},{"x":0,"y":0.436,"n":12000},{"x":0.03,"y":0.436,"n":12000},{"x":0.059,"y":0.436,"n":11000},{"x":0.089,"y":0.436,"n":11000},{"x":0.119,"y":0.436,"n":10000},{"x":0.148,"y":0.436,"n":10000},{"x":0.178,"y":0.436,"n":10000},{"x":0.208,"y":0.436,"n":9000},{"x":0.237,"y":0.436,"n":9000},{"x":0.267,"y":0.436,"n":8000},{"x":0.297,"y":0.436,"n":7000},{"x":0.326,"y":0.436,"n":6000},{"x":0.386,"y":0.436,"n":6000},{"x":0.416,"y":0.436,"n":6000},{"x":0.475,"y":0.436,"n":6000},{"x":0.505,"y":0.436,"n":6000},{"x":0.594,"y":0.436,"n":6000},{"x":0.653,"y":0.436,"n":8000},{"x":0.683,"y":0.436,"n":12000},{"x":0.712,"y":0.436,"n":14000},{"x":0.742,"y":0.436,"n":12000},{"x":0.015,"y":0.466,"n":12000},{"x":0.045,"y":0.466,"n":12000},{"x":0.074,"y":0.466,"n":11000},{"x":0.104,"y":0.466,"n":11000},{"x":0.134,"y":0.466,"n":10000},{"x":0.163,"y":0.466,"n":10000},{"x":0.223,"y":0.466,"n":9000},{"x":0.252,"y":0.466,"n":8000},{"x":0.282,"y":0.466,"n":7000},{"x":0.312,"y":0.466,"n":7000},{"x":0.341,"y":0.466,"n":6000},{"x":0.371,"y":0.466,"n":6000},{"x":0.46,"y":0.466,"n":6000},{"x":0.549,"y":0.466,"n":6000},{"x":0.608,"y":0.466,"n":7000},{"x":0.638,"y":0.466,"n":8000},{"x":0.668,"y":0.466,"n":5000},{"x":0.697,"y":0.466,"n":10000},{"x":0.727,"y":0.466,"n":9000},{"x":0,"y":0.495,"n":12000},{"x":0.03,"y":0.495,"n":13000},{"x":0.059,"y":0.495,"n":12000},{"x":0.089,"y":0.495,"n":12000},{"x":0.119,"y":0.495,"n":11000},{"x":0.148,"y":0.495,"n":11000},{"x":0.178,"y":0.495,"n":10000},{"x":0.208,"y":0.495,"n":10000},{"x":0.237,"y":0.495,"n":9000},{"x":0.267,"y":0.495,"n":8000},{"x":0.297,"y":0.495,"n":8000},{"x":0.326,"y":0.495,"n":7000},{"x":0.386,"y":0.495,"n":7000},{"x":0.416,"y":0.495,"n":7000},{"x":0.505,"y":0.495,"n":6000},{"x":0.594,"y":0.495,"n":7000},{"x":0.653,"y":0.495,"n":8000},{"x":0.683,"y":0.495,"n":9000},{"x":0.712,"y":0.495,"n":10000},{"x":0.742,"y":0.495,"n":8000},{"x":0.015,"y":0.525,"n":13000},{"x":0.045,"y":0.525,"n":13000},{"x":0.074,"y":0.525,"n":13000},{"x":0.104,"y":0.525,"n":12000},{"x":0.134,"y":0.525,"n":12000},{"x":0.163,"y":0.525,"n":12000},{"x":0.193,"y":0.525,"n":11000},{"x":0.223,"y":0.525,"n":10000},{"x":0.252,"y":0.525,"n":9000},{"x":0.312,"y":0.525,"n":8000},{"x":0.341,"y":0.525,"n":8000},{"x":0.371,"y":0.525,"n":8000},{"x":0.43,"y":0.525,"n":8000},{"x":0.46,"y":0.525,"n":8000},{"x":0.519,"y":0.525,"n":7000},{"x":0.549,"y":0.525,"n":7000},{"x":0.608,"y":0.525,"n":7000},{"x":0.638,"y":0.525,"n":7000},{"x":0.668,"y":0.525,"n":7000},{"x":0.697,"y":0.525,"n":8000},{"x":0.727,"y":0.525,"n":8000},{"x":0.757,"y":0.525,"n":5000},{"x":0,"y":0.555,"n":12000},{"x":0.03,"y":0.555,"n":13000},{"x":0.059,"y":0.555,"n":13000},{"x":0.089,"y":0.555,"n":13000},{"x":0.119,"y":0.555,"n":12000},{"x":0.148,"y":0.555,"n":12000},{"x":0.178,"y":0.555,"n":11000},{"x":0.208,"y":0.555,"n":11000},{"x":0.237,"y":0.555,"n":10000},{"x":0.267,"y":0.555,"n":9000},{"x":0.297,"y":0.555,"n":8000},{"x":0.326,"y":0.555,"n":8000},{"x":0.386,"y":0.555,"n":8000},{"x":0.416,"y":0.555,"n":8000},{"x":0.475,"y":0.555,"n":7000},{"x":0.505,"y":0.555,"n":7000},{"x":0.564,"y":0.555,"n":7000},{"x":0.594,"y":0.555,"n":7000},{"x":0.653,"y":0.555,"n":8000},{"x":0.683,"y":0.555,"n":8000},{"x":0.712,"y":0.555,"n":8000},{"x":0.742,"y":0.555,"n":6000},{"x":0.015,"y":0.584,"n":11500},{"x":0.045,"y":0.584,"n":11500},{"x":0.074,"y":0.584,"n":11000},{"x":0.104,"y":0.584,"n":11000},{"x":0.134,"y":0.584,"n":11000},{"x":0.163,"y":0.584,"n":11000},{"x":0.193,"y":0.584,"n":11000},{"x":0.223,"y":0.584,"n":10000},{"x":0.252,"y":0.584,"n":10000},{"x":0.312,"y":0.584,"n":8000},{"x":0.341,"y":0.584,"n":8000},{"x":0.371,"y":0.584,"n":8000},{"x":0.43,"y":0.584,"n":8000},{"x":0.46,"y":0.584,"n":8000},{"x":0.519,"y":0.584,"n":7000},{"x":0.549,"y":0.584,"n":7000},{"x":0.608,"y":0.584,"n":7000},{"x":0.638,"y":0.584,"n":7000},{"x":0.668,"y":0.584,"n":8000},{"x":0.697,"y":0.584,"n":8000},{"x":0.727,"y":0.584,"n":7000},{"x":0.757,"y":0.584,"n":5000},{"x":0,"y":0.614,"n":10000},{"x":0.03,"y":0.614,"n":11500},{"x":0.059,"y":0.614,"n":11500},{"x":0.089,"y":0.614,"n":11000},{"x":0.119,"y":0.614,"n":11000},{"x":0.148,"y":0.614,"n":11000},{"x":0.178,"y":0.614,"n":11000},{"x":0.208,"y":0.614,"n":11000},{"x":0.237,"y":0.614,"n":10000},{"x":0.267,"y":0.614,"n":9000},{"x":0.297,"y":0.614,"n":8000},{"x":0.326,"y":0.614,"n":8000},{"x":0.386,"y":0.614,"n":8000},{"x":0.416,"y":0.614,"n":8000},{"x":0.475,"y":0.614,"n":8000},{"x":0.505,"y":0.614,"n":7000},{"x":0.564,"y":0.614,"n":7000},{"x":0.594,"y":0.614,"n":7000},{"x":0.653,"y":0.614,"n":8000},{"x":0.683,"y":0.614,"n":7000},{"x":0.712,"y":0.614,"n":7000},{"x":0.742,"y":0.614,"n":5000},{"x":0.015,"y":0.644,"n":11500},{"x":0.045,"y":0.644,"n":12000},{"x":0.074,"y":0.644,"n":11500},{"x":0.104,"y":0.644,"n":11500},{"x":0.134,"y":0.644,"n":11000},{"x":0.163,"y":0.644,"n":11000},{"x":0.193,"y":0.644,"n":11000},{"x":0.223,"y":0.644,"n":10000},{"x":0.252,"y":0.644,"n":10000},{"x":0.312,"y":0.644,"n":9000},{"x":0.341,"y":0.644,"n":9000},{"x":0.371,"y":0.644,"n":9000},{"x":0.43,"y":0.644,"n":9000},{"x":0.46,"y":0.644,"n":8000},{"x":0.519,"y":0.644,"n":8000},{"x":0.549,"y":0.644,"n":7000},{"x":0.608,"y":0.644,"n":7000},{"x":0.638,"y":0.644,"n":7000},{"x":0.668,"y":0.644,"n":7000},{"x":0.697,"y":0.644,"n":7000},{"x":0.727,"y":0.644,"n":6000},{"x":0.757,"y":0.644,"n":4000},{"x":0,"y":0.673,"n":10000},{"x":0.03,"y":0.673,"n":11500},{"x":0.059,"y":0.673,"n":12000},{"x":0.089,"y":0.673,"n":11500},{"x":0.119,"y":0.673,"n":11500},{"x":0.148,"y":0.673,"n":11500},{"x":0.178,"y":0.673,"n":11000},{"x":0.208,"y":0.673,"n":11000},{"x":0.237,"y":0.673,"n":10000},{"x":0.267,"y":0.673,"n":10000},{"x":0.297,"y":0.673,"n":9000},{"x":0.326,"y":0.673,"n":9000},{"x":0.386,"y":0.673,"n":9000},{"x":0.416,"y":0.673,"n":9000},{"x":0.475,"y":0.673,"n":8000},{"x":0.505,"y":0.673,"n":8000},{"x":0.564,"y":0.673,"n":7000},{"x":0.594,"y":0.673,"n":7000},{"x":0.653,"y":0.673,"n":7000},{"x":0.683,"y":0.673,"n":6000},{"x":0.712,"y":0.673,"n":6000},{"x":0.742,"y":0.673,"n":4000},{"x":0.015,"y":0.703,"n":11500},{"x":0.045,"y":0.703,"n":12500},{"x":0.074,"y":0.703,"n":12000},{"x":0.104,"y":0.703,"n":12000},{"x":0.134,"y":0.703,"n":12000},{"x":0.163,"y":0.703,"n":11500},{"x":0.193,"y":0.703,"n":11500},{"x":0.223,"y":0.703,"n":11000},{"x":0.252,"y":0.703,"n":10000},{"x":0.312,"y":0.703,"n":10000},{"x":0.341,"y":0.703,"n":10000},{"x":0.371,"y":0.703,"n":10000},{"x":0.43,"y":0.703,"n":10000},{"x":0.46,"y":0.703,"n":9000},{"x":0.519,"y":0.703,"n":8000},{"x":0.549,"y":0.703,"n":8000},{"x":0.608,"y":0.703,"n":7000},{"x":0.638,"y":0.703,"n":6000},{"x":0.697,"y":0.703,"n":6000},{"x":0.727,"y":0.703,"n":5000},{"x":0.757,"y":0.703,"n":3000},{"x":0,"y":0.732,"n":10000},{"x":0.03,"y":0.732,"n":12000},{"x":0.059,"y":0.732,"n":12500},{"x":0.089,"y":0.732,"n":12500},{"x":0.119,"y":0.732,"n":12500},{"x":0.148,"y":0.732,"n":12000},{"x":0.178,"y":0.732,"n":12000},{"x":0.208,"y":0.732,"n":11500},{"x":0.237,"y":0.732,"n":11000},{"x":0.267,"y":0.732,"n":10000},{"x":0.297,"y":0.732,"n":10000},{"x":0.326,"y":0.732,"n":10000},{"x":0.386,"y":0.732,"n":10000},{"x":0.416,"y":0.732,"n":10000},{"x":0.475,"y":0.732,"n":9000},{"x":0.505,"y":0.732,"n":8000},{"x":0.564,"y":0.732,"n":7000},{"x":0.594,"y":0.732,"n":7000},{"x":0.653,"y":0.732,"n":6000},{"x":0.683,"y":0.732,"n":6000},{"x":0.712,"y":0.732,"n":5000},{"x":0.742,"y":0.732,"n":3000},{"x":0.015,"y":0.762,"n":11500},{"x":0.045,"y":0.762,"n":12500},{"x":0.074,"y":0.762,"n":13000},{"x":0.104,"y":0.762,"n":13000},{"x":0.134,"y":0.762,"n":13000},{"x":0.163,"y":0.762,"n":12500},{"x":0.193,"y":0.762,"n":12500},{"x":0.223,"y":0.762,"n":12000},{"x":0.252,"y":0.762,"n":11000},{"x":0.312,"y":0.762,"n":10000},{"x":0.341,"y":0.762,"n":10000},{"x":0.371,"y":0.762,"n":10000},{"x":0.43,"y":0.762,"n":10000},{"x":0.46,"y":0.762,"n":10000},{"x":0.519,"y":0.762,"n":8000},{"x":0.549,"y":0.762,"n":8000},{"x":0.608,"y":0.762,"n":7000},{"x":0.638,"y":0.762,"n":6000},{"x":0.697,"y":0.762,"n":5000},{"x":0.727,"y":0.762,"n":4000},{"x":0.757,"y":0.762,"n":3000},{"x":0,"y":0.792,"n":10000},{"x":0.03,"y":0.792,"n":12000},{"x":0.059,"y":0.792,"n":13000},{"x":0.089,"y":0.792,"n":13000},{"x":0.119,"y":0.792,"n":13500},{"x":0.148,"y":0.792,"n":13000},{"x":0.178,"y":0.792,"n":13000},{"x":0.208,"y":0.792,"n":12500},{"x":0.237,"y":0.792,"n":12000},{"x":0.267,"y":0.792,"n":11000},{"x":0.297,"y":0.792,"n":10000},{"x":0.326,"y":0.792,"n":10000},{"x":0.386,"y":0.792,"n":10000},{"x":0.416,"y":0.792,"n":10000},{"x":0.475,"y":0.792,"n":9000},{"x":0.505,"y":0.792,"n":8000},{"x":0.564,"y":0.792,"n":7000},{"x":0.594,"y":0.792,"n":6000},{"x":0.653,"y":0.792,"n":5000},{"x":0.683,"y":0.792,"n":5000},{"x":0.712,"y":0.792,"n":4000},{"x":0.742,"y":0.792,"n":3000},{"x":0.015,"y":0.821,"n":11000},{"x":0.045,"y":0.821,"n":12000},{"x":0.074,"y":0.821,"n":13000},{"x":0.104,"y":0.821,"n":13500},{"x":0.134,"y":0.821,"n":13500},{"x":0.163,"y":0.821,"n":13500},{"x":0.193,"y":0.821,"n":13000},{"x":0.223,"y":0.821,"n":12500},{"x":0.252,"y":0.821,"n":11500},{"x":0.312,"y":0.821,"n":10500},{"x":0.341,"y":0.821,"n":10000},{"x":0.371,"y":0.821,"n":10000},{"x":0.43,"y":0.821,"n":10000},{"x":0.46,"y":0.821,"n":9000},{"x":0.519,"y":0.821,"n":8000},{"x":0.549,"y":0.821,"n":7000},{"x":0.608,"y":0.821,"n":6000},{"x":0.638,"y":0.821,"n":5000},{"x":0.697,"y":0.821,"n":4000},{"x":0.727,"y":0.821,"n":3000},{"x":0.757,"y":0.821,"n":2000},{"x":0,"y":0.851,"n":9000},{"x":0.03,"y":0.851,"n":11500},{"x":0.059,"y":0.851,"n":12500},{"x":0.089,"y":0.851,"n":13000},{"x":0.119,"y":0.851,"n":13500},{"x":0.148,"y":0.851,"n":13500},{"x":0.178,"y":0.851,"n":13500},{"x":0.208,"y":0.851,"n":12500},{"x":0.237,"y":0.851,"n":12000},{"x":0.267,"y":0.851,"n":11000},{"x":0.297,"y":0.851,"n":10500},{"x":0.326,"y":0.851,"n":10000},{"x":0.386,"y":0.851,"n":10000},{"x":0.416,"y":0.851,"n":10000},{"x":0.475,"y":0.851,"n":8000},{"x":0.505,"y":0.851,"n":7000},{"x":0.564,"y":0.851,"n":6000},{"x":0.594,"y":0.851,"n":5000},{"x":0.653,"y":0.851,"n":4000},{"x":0.683,"y":0.851,"n":3000},{"x":0.712,"y":0.851,"n":3000},{"x":0.742,"y":0.851,"n":2000},{"x":0.015,"y":0.881,"n":10000},{"x":0.045,"y":0.881,"n":11000},{"x":0.074,"y":0.881,"n":12000},{"x":0.104,"y":0.881,"n":12500},{"x":0.134,"y":0.881,"n":13000},{"x":0.163,"y":0.881,"n":13000},{"x":0.193,"y":0.881,"n":12500},{"x":0.223,"y":0.881,"n":12000},{"x":0.252,"y":0.881,"n":11000},{"x":0.312,"y":0.881,"n":10000},{"x":0.341,"y":0.881,"n":10000},{"x":0.371,"y":0.881,"n":9000},{"x":0.43,"y":0.881,"n":9000},{"x":0.46,"y":0.881,"n":8000},{"x":0.519,"y":0.881,"n":7000},{"x":0.549,"y":0.881,"n":6000},{"x":0.608,"y":0.881,"n":5000},{"x":0.638,"y":0.881,"n":4000},{"x":0.697,"y":0.881,"n":3000},{"x":0.727,"y":0.881,"n":2000},{"x":0.757,"y":0.881,"n":2000},{"x":0,"y":0.91,"n":9000},{"x":0.03,"y":0.91,"n":10000},{"x":0.059,"y":0.91,"n":11500},{"x":0.089,"y":0.91,"n":12000},{"x":0.119,"y":0.91,"n":12500},{"x":0.148,"y":0.91,"n":12500},{"x":0.178,"y":0.91,"n":12000},{"x":0.208,"y":0.91,"n":11500},{"x":0.237,"y":0.91,"n":11000},{"x":0.267,"y":0.91,"n":10000},{"x":0.297,"y":0.91,"n":10000},{"x":0.326,"y":0.91,"n":9000},{"x":0.386,"y":0.91,"n":8000},{"x":0.416,"y":0.91,"n":8000},{"x":0.475,"y":0.91,"n":7000},{"x":0.505,"y":0.91,"n":6000},{"x":0.564,"y":0.91,"n":5000},{"x":0.594,"y":0.91,"n":4000},{"x":0.653,"y":0.91,"n":3000},{"x":0.683,"y":0.91,"n":3000},{"x":0.712,"y":0.91,"n":2000},{"x":0.742,"y":0.91,"n":1000},{"x":0.015,"y":0.94,"n":9000},{"x":0.045,"y":0.94,"n":10000},{"x":0.074,"y":0.94,"n":11000},{"x":0.104,"y":0.94,"n":11500},{"x":0.134,"y":0.94,"n":11500},{"x":0.163,"y":0.94,"n":11500},{"x":0.193,"y":0.94,"n":11000},{"x":0.223,"y":0.94,"n":10500},{"x":0.252,"y":0.94,"n":10000},{"x":0.312,"y":0.94,"n":9000},{"x":0.341,"y":0.94,"n":8000},{"x":0.371,"y":0.94,"n":7000},{"x":0.43,"y":0.94,"n":7000},{"x":0.46,"y":0.94,"n":6000},{"x":0.519,"y":0.94,"n":5000},{"x":0.549,"y":0.94,"n":4000},{"x":0.608,"y":0.94,"n":4000},{"x":0.638,"y":0.94,"n":3000},{"x":0.697,"y":0.94,"n":2000},{"x":0.727,"y":0.94,"n":2000},{"x":0.757,"y":0.94,"n":1000},{"x":0,"y":0.969,"n":7000},{"x":0.03,"y":0.969,"n":8000},{"x":0.059,"y":0.969,"n":9000},{"x":0.089,"y":0.969,"n":10000},{"x":0.119,"y":0.969,"n":10500},{"x":0.148,"y":0.969,"n":10500},{"x":0.178,"y":0.969,"n":10000},{"x":0.208,"y":0.969,"n":9000},{"x":0.237,"y":0.969,"n":8000},{"x":0.267,"y":0.969,"n":7000},{"x":0.297,"y":0.969,"n":6000},{"x":0.326,"y":0.969,"n":5000},{"x":0.386,"y":0.969,"n":5000},{"x":0.416,"y":0.969,"n":4000},{"x":0.475,"y":0.969,"n":4000},{"x":0.505,"y":0.969,"n":3000},{"x":0.564,"y":0.969,"n":3000},{"x":0.594,"y":0.969,"n":2000},{"x":0.653,"y":0.969,"n":2000},{"x":0.683,"y":0.969,"n":2000},{"x":0.712,"y":0.969,"n":1000},{"x":0.742,"y":0.969,"n":1000},{"x":0.015,"y":0.999,"n":5000},{"x":0.045,"y":0.999,"n":5000},{"x":0.074,"y":0.999,"n":5000},{"x":0.104,"y":0.999,"n":6000},{"x":0.134,"y":0.999,"n":6000},{"x":0.163,"y":0.999,"n":6000},{"x":0.193,"y":0.999,"n":6000},{"x":0.223,"y":0.999,"n":5000},{"x":0.252,"y":0.999,"n":5000},{"x":0.312,"y":0.999,"n":4000},{"x":0.341,"y":0.999,"n":3000},{"x":0.371,"y":0.999,"n":3000},{"x":0.43,"y":0.999,"n":3000},{"x":0.46,"y":0.999,"n":2000},{"x":0.519,"y":0.999,"n":2000},{"x":0.549,"y":0.999,"n":2000},{"x":0.608,"y":0.999,"n":1000},{"x":0.638,"y":0.999,"n":1000},{"x":0.697,"y":0.999,"n":1000},{"x":0.727,"y":0.999,"n":1000}]},"mark":{"type":"point","filled":true,"opacity":1,"strokeWidth":0,"size":122,"shape":"M0,-1L0.866,-0.5L0.866,0.5L0,1L-0.866,0.5L-0.866,-0.5Z"},"encoding":{"x":{"field":"x","type":"quantitative","title":"Immediacy","scale":{"domain":[-0.0388,0.795],"nice":false,"zero":false},"axis":{"values":[0,0.2,0.4,0.6],"format":".1f","titleFontSize":14,"titlePadding":9.5}},"y":{"field":"y","type":"quantitative","title":"Impact","scale":{"domain":[0.0945,1.0407],"nice":false,"zero":false},"axis":{"values":[0.25,0.5,0.75,1],"format":".2f","titleFontSize":15,"titlePadding":18}},"color":{"field":"n","type":"quantitative","scale":{"scheme":"viridis","domain":[-3660,177700],"clamp":true},"legend":{"orient":"none","legendX":291,"legendY":54,"title":"count","titleFontWeight":"normal","titleFont":"Open Sans","labelFont":"Open Sans","titleFontSize":13,"labelFontSize":13.5,"labelColor":"#000000","titleColor":"#000000","gradientLength":144,"gradientThickness":29,"titlePadding":6,"labelOffset":7,"labelOverlap":false,"format":"d","values":[40000,80000,120000,160000]}}}}]}]}]}]}
